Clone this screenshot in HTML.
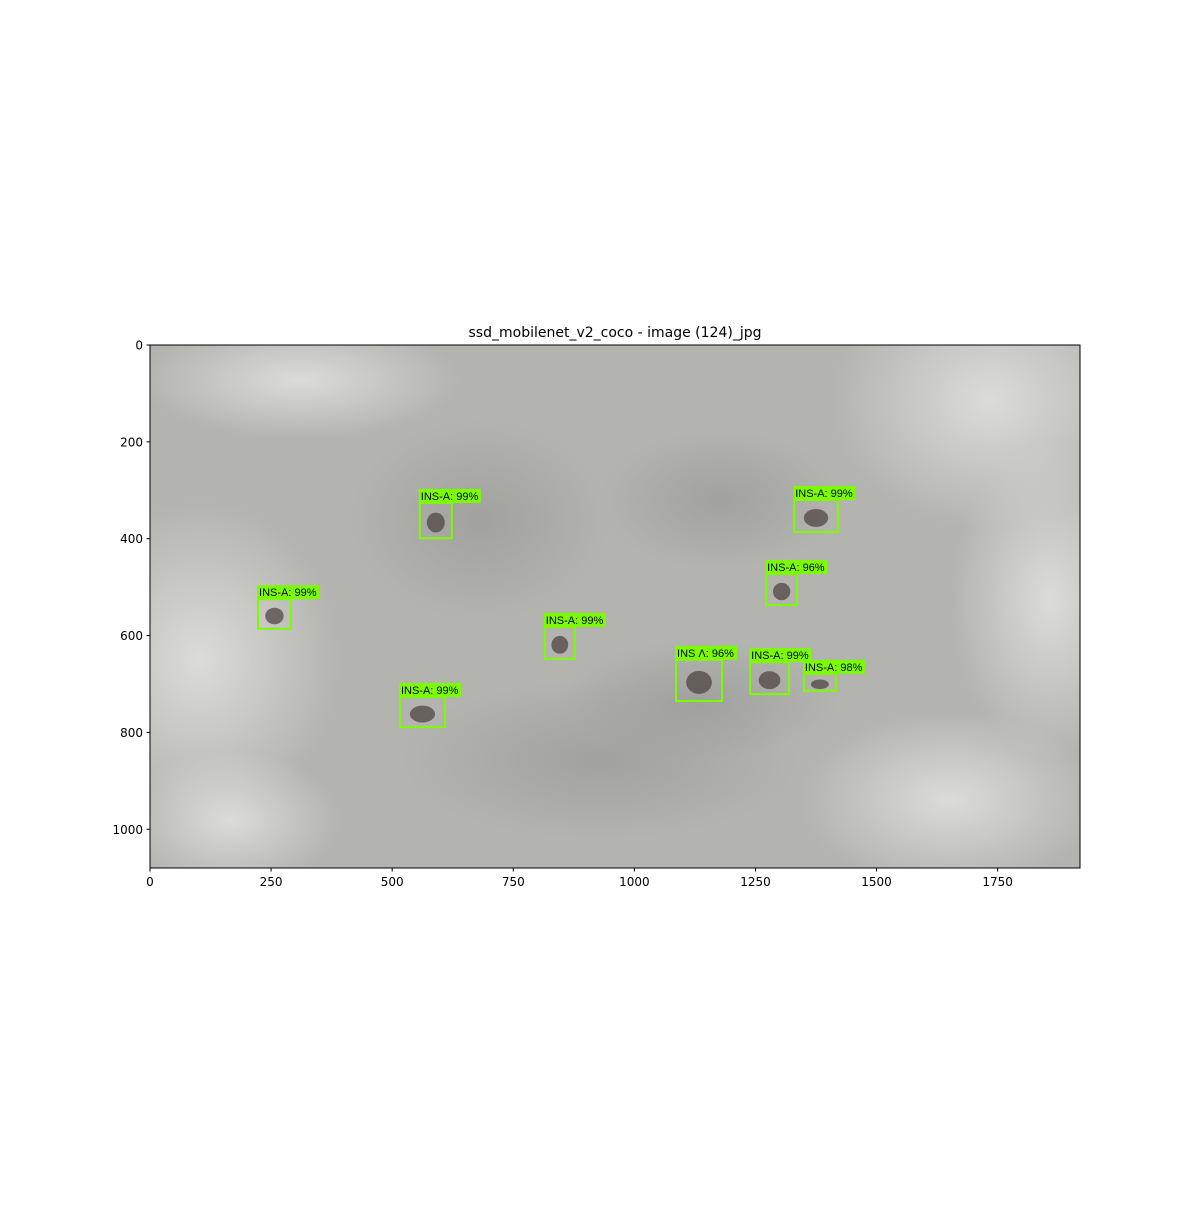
<!DOCTYPE html>
<html><head><meta charset="utf-8"><style>
html,body{margin:0;padding:0;background:#fff;}
body{width:1200px;height:1200px;overflow:hidden;font-family:"Liberation Sans","DejaVu Sans",sans-serif;}
.lbl{font-family:"Liberation Sans",Arial,sans-serif;}
</style></head><body>
<svg id="chart" width="1200" height="1200" xmlns="http://www.w3.org/2000/svg" font-family="DejaVu Sans, Liberation Sans, sans-serif">
<defs>
<radialGradient id="l1" cx="0.5" cy="0.5" r="0.5"><stop offset="0" stop-color="#e0e0de" stop-opacity="0.9"/><stop offset="1" stop-color="#e0e0de" stop-opacity="0"/></radialGradient>
<radialGradient id="d1" cx="0.5" cy="0.5" r="0.5"><stop offset="0" stop-color="#929290" stop-opacity="0.55"/><stop offset="1" stop-color="#929290" stop-opacity="0"/></radialGradient>
<clipPath id="axclip"><rect x="150" y="345" width="930" height="523"/></clipPath>
</defs>
<text x="615" y="337" text-anchor="middle" font-size="14" fill="#000">ssd_mobilenet_v2_coco - image (124)_jpg</text>
<g clip-path="url(#axclip)">
<rect x="150" y="345" width="930" height="523" fill="#b3b3b0"/>
<ellipse cx="200" cy="660" rx="140" ry="160" fill="url(#l1)"/>
<ellipse cx="990" cy="400" rx="160" ry="130" fill="url(#l1)"/>
<ellipse cx="300" cy="380" rx="160" ry="60" fill="url(#l1)"/>
<ellipse cx="950" cy="800" rx="150" ry="90" fill="url(#l1)"/>
<ellipse cx="1050" cy="600" rx="100" ry="160" fill="url(#l1)"/>
<ellipse cx="230" cy="820" rx="110" ry="70" fill="url(#l1)"/>
<ellipse cx="480" cy="520" rx="130" ry="100" fill="url(#d1)"/>
<ellipse cx="720" cy="500" rx="120" ry="70" fill="url(#d1)"/>
<ellipse cx="600" cy="760" rx="200" ry="80" fill="url(#d1)"/>
<ellipse cx="700" cy="700" rx="140" ry="60" fill="url(#d1)"/>
<g id="beetles"></g>
<g id="boxes"></g>
</g>
<rect x="150" y="345" width="930" height="523" fill="none" stroke="#000" stroke-width="1"/>
<g id="xticks"></g><g id="yticks"></g>
</svg>
<script>
const xTicks=[0,250,500,750,1000,1250,1500,1750];
const yTicks=[0,200,400,600,800,1000];
const boxX1=[557,1330,1272,223,815,1086,1239,1350,516];
const boxY1=[326,320,473,525,582,650,655,679,727];
const boxX2=[623,1420,1336,291,877,1181,1319,1416,609];
const boxY2=[399,386,537,586,648,735,721,714,789];
const boxLabels=["INS-A: 99%","INS-A: 99%","INS-A: 96%","INS-A: 99%","INS-A: 99%","INS Λ: 96%","INS-A: 99%","INS-A: 98%","INS-A: 99%"];
const W=1920,H=1080,L=150,T=345,PW=930,PH=523;
const sx=v=>L+v/W*PW, sy=v=>T+v/H*PH;
const NS="http://www.w3.org/2000/svg";
function mk(tag,attrs,parent){const e=document.createElementNS(NS,tag);for(const k in attrs)e.setAttribute(k,attrs[k]);parent.appendChild(e);return e;}
const xt=document.getElementById('xticks'),yt=document.getElementById('yticks');
xTicks.forEach(v=>{const x=sx(v);
 const l=mk('line',{x1:x,x2:x,y1:868,y2:871.5,stroke:'#000'},xt);
 
 
 const t=mk('text',{x:x,y:886,'text-anchor':'middle','font-size':'12',fill:'#000'},xt);t.textContent=v;
 
 });
yTicks.forEach(v=>{const y=sy(v);
 const l=mk('line',{x1:146.5,x2:150,y1:y,y2:y,stroke:'#000'},yt);
 
 
 const t=mk('text',{x:143,y:y+4.5,'text-anchor':'end','font-size':'12',fill:'#000'},yt);t.textContent=v;
 
 });
const bt=document.getElementById('beetles'),bx=document.getElementById('boxes');
boxLabels.forEach((lab,i)=>{
 const x1=sx(boxX1[i]),y1=sy(boxY1[i]),x2=sx(boxX2[i]),y2=sy(boxY2[i]);
 const b=mk('ellipse',{cx:(x1+x2)/2,cy:(y1+y2)/2+2,rx:(x2-x1)*0.28,ry:(y2-y1)*0.28,fill:'#4a3e3c',opacity:'0.7'},bt);
 
 
 const r=mk('rect',{x:x1,y:y1,width:x2-x1,height:y2-y1,fill:'none',stroke:'#7cfc00','stroke-width':'2'},bx);
 
 
 const bg=mk('rect',{x:x1-1,y:y1-14,width:62,height:14,fill:'#7cfc00'},bx);
 
 
 const t=mk('text',{x:x1+1,y:y1-3,'font-size':'11',class:'lbl',fill:'#000'},bx);t.textContent=lab;
 
 
});
</script>
</body></html>
